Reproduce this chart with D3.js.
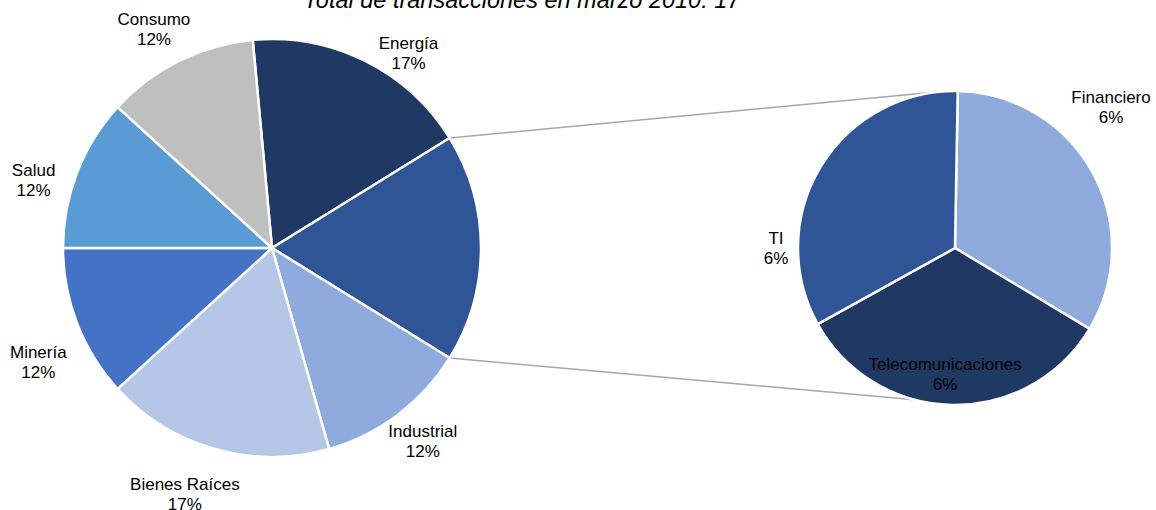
<!DOCTYPE html>
<html>
<head>
<meta charset="utf-8">
<script src="https://cdn.jsdelivr.net/npm/d3@7"></script>
<style>
  body { margin: 0; background: #fff; }
  text { font-family: "Liberation Sans", Arial, sans-serif; fill: #000; }
</style>
</head>
<body>
<svg id="chart" width="1156" height="510"></svg>
<script>
// main pie (Otros = the slice that is broken out to the right)
const mainNames = ["Energía", "Otros", "Industrial", "Bienes Raíces", "Minería", "Salud", "Consumo"];
const mainCounts = [3, 3, 2, 3, 2, 2, 2];
const mainPctLabels = ["17%", "18%", "12%", "17%", "12%", "12%", "12%"];
const mainColors = ["#203864", "#2F5597", "#8FAADC", "#B4C7E7", "#4472C4", "#5B9BD5", "#BFBFBF"];

// secondary pie
const subNames = ["Financiero", "Telecomunicaciones", "TI"];
const subCounts = [1, 1, 1];
const subPctLabels = ["6%", "6%", "6%"];
const subColors = ["#8FAADC", "#203864", "#2F5597"];

const title = "Total de transacciones en marzo 2010: 17";

const total = d3.sum(mainCounts);
const svg = d3.select("#chart");

const main = { cx: 272, cy: 248, r: 209 };
const sub = { cx: 955, cy: 248, r: 157 };

// label placement: polar position (deg, radius) from pie center
const mainLabelPos = {
  "Energía": [35, 238],
  "Industrial": [142, 245],
  "Bienes Raíces": [199.5, 261],
  "Minería": [244, 260],
  "Salud": [286, 248],
  "Consumo": [331.7, 249]
};
const subLabelPos = {
  "Financiero": [48, 210],
  "Telecomunicaciones": [184.5, 126],
  "TI": [270, 179]
};

const rad = d => d * Math.PI / 180;
const polar = (c, a, r) => [c.cx + r * Math.sin(rad(a)), c.cy - r * Math.cos(rad(a))];

// put the "Otros" slice centered at 3 o'clock
const startMain = Math.PI / 2 - (mainCounts[0] + mainCounts[1] / 2) / total * 2 * Math.PI;

const pieMain = d3.pie().sort(null).value(d => d.v)
  .startAngle(startMain).endAngle(startMain + 2 * Math.PI);
const pieSub = d3.pie().sort(null).value(d => d.v)
  .startAngle(rad(1)).endAngle(rad(361));

const mainData = pieMain(mainNames.map((n, i) => ({ n, v: mainCounts[i], c: mainColors[i], p: mainPctLabels[i] })));
const subData = pieSub(subNames.map((n, i) => ({ n, v: subCounts[i], c: subColors[i], p: subPctLabels[i] })));

const arcMain = d3.arc().innerRadius(0).outerRadius(main.r);
const arcSub = d3.arc().innerRadius(0).outerRadius(sub.r);

// connector lines
const other = mainData[1];
const deg = a => a * 180 / Math.PI;
const p1 = polar(main, deg(other.startAngle), main.r);
const p2 = polar(main, deg(other.endAngle), main.r);
const q1 = polar(sub, -6, sub.r);
const q2 = polar(sub, 195, sub.r);
svg.append("g").selectAll("line")
  .data([[p1, q1], [p2, q2]])
  .join("line")
  .attr("x1", d => d[0][0]).attr("y1", d => d[0][1])
  .attr("x2", d => d[1][0]).attr("y2", d => d[1][1])
  .attr("stroke", "#A6A6A6").attr("stroke-width", 1.5);

svg.append("g").attr("transform", `translate(${main.cx},${main.cy})`)
  .selectAll("path").data(mainData).join("path")
  .attr("d", arcMain)
  .attr("fill", d => d.data.c)
  .attr("stroke", "#fff").attr("stroke-width", 2.5).attr("stroke-linejoin", "round");

svg.append("g").attr("transform", `translate(${sub.cx},${sub.cy})`)
  .selectAll("path").data(subData).join("path")
  .attr("d", arcSub)
  .attr("fill", d => d.data.c)
  .attr("stroke", "#fff").attr("stroke-width", 2.5).attr("stroke-linejoin", "round");

function addLabel(d, pos, center)
{
  const p = polar(center, pos[0], pos[1]);
  const t = svg.append("text")
    .attr("text-anchor", "middle")
    .attr("font-size", 17)
    .attr("x", p[0]).attr("y", p[1] - 4);
  t.append("tspan").attr("x", p[0]).text(d.data.n);
  t.append("tspan").attr("x", p[0]).attr("dy", 20).text(d.data.p);
}

mainData.forEach(d =>
{
  if (mainLabelPos[d.data.n]) addLabel(d, mainLabelPos[d.data.n], main);
});
subData.forEach(d =>
{
  addLabel(d, subLabelPos[d.data.n], sub);
});

svg.append("text")
  .attr("x", 522).attr("y", 8)
  .attr("text-anchor", "middle")
  .attr("font-size", 23.5)
  .attr("font-style", "italic")
  .text(title);
</script>
</body>
</html>
